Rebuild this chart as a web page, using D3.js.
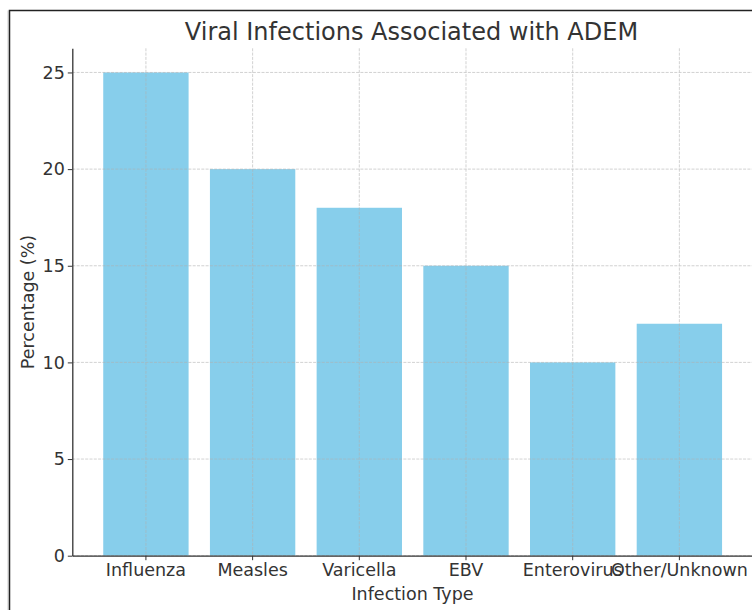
<!DOCTYPE html>
<html>
<head>
<meta charset="utf-8">
<script src="https://cdn.jsdelivr.net/npm/d3@7"></script>
<style>
  html, body { margin: 0; padding: 0; background: #fff; }
  svg { display: block; }
  text { font-family: "DejaVu Sans", sans-serif; fill: #333; }
</style>
</head>
<body>
<svg id="chart" width="752" height="610"></svg>
<script>
const categories = ["Influenza", "Measles", "Varicella", "EBV", "Enterovirus", "Other/Unknown"];
const values = [25, 20, 18, 15, 10, 12];
const yTicks = [0, 5, 10, 15, 20, 25];
const title = "Viral Infections Associated with ADEM";
const xLabel = "Infection Type";
const yLabel = "Percentage (%)";

const svg = d3.select("#chart");
const W = 752, H = 610;
const plot = { left: 72.3, right: 753, top: 48.3, bottom: 555.7 };

// outer frame (cropped screenshot border)
svg.append("line").attr("x1", 8).attr("x2", 8).attr("y1", 10.5).attr("y2", H)
  .attr("stroke", "#ccc").attr("stroke-width", 1);
svg.append("path").attr("d", `M9.5,${H} V10.5 H${W}`)
  .attr("fill", "none").attr("stroke", "#222").attr("stroke-width", 1.5);

const x = d3.scaleBand().domain(categories)
  .range([plot.left, plot.right]).paddingInner(0.2).paddingOuter(0.29);
const y = d3.scaleLinear().domain([0, 26.25]).range([plot.bottom, plot.top]);

// bars
svg.append("g").selectAll("rect").data(categories).join("rect")
  .attr("x", d => x(d))
  .attr("width", x.bandwidth())
  .attr("y", (d, i) => y(values[i]))
  .attr("height", (d, i) => y(0) - y(values[i]))
  .attr("fill", "#87CEEB");

// grid (drawn above bars, as in matplotlib)
const grid = svg.append("g").attr("stroke", "#b0b0b0").attr("stroke-width", 0.8)
  .attr("stroke-dasharray", "3,1.3").attr("opacity", 0.7);
grid.selectAll("line.h").data(yTicks).join("line").attr("class", "h")
  .attr("x1", plot.left).attr("x2", plot.right)
  .attr("y1", d => y(d)).attr("y2", d => y(d));
grid.selectAll("line.v").data(categories).join("line").attr("class", "v")
  .attr("x1", d => x(d) + x.bandwidth() / 2).attr("x2", d => x(d) + x.bandwidth() / 2)
  .attr("y1", plot.top).attr("y2", plot.bottom);

// axes
const xAxis = svg.append("g").attr("transform", `translate(0,${plot.bottom})`)
  .call(d3.axisBottom(x).tickSizeInner(4.5).tickSizeOuter(0).tickPadding(3));
const yAxis = svg.append("g").attr("transform", `translate(${plot.left},0)`)
  .call(d3.axisLeft(y).tickValues(yTicks).tickSizeInner(4.5).tickSizeOuter(0).tickPadding(3));
[xAxis, yAxis].forEach(a => {
  a.select(".domain").attr("stroke", "#333").attr("stroke-width", 1.3);
  a.selectAll(".tick line").attr("stroke", "#333").attr("stroke-width", 1);
  a.selectAll(".tick text").attr("fill", "#333")
    .style("font-family", '"DejaVu Sans", sans-serif').style("font-size", "17.5px");
});

// title & labels
svg.append("text").attr("x", 411.5).attr("y", 40).attr("text-anchor", "middle")
  .style("font-size", "24px").text(title);
svg.append("text").attr("x", 412.5).attr("y", 600).attr("text-anchor", "middle")
  .style("font-size", "17.5px").text(xLabel);
svg.append("text").attr("transform", "translate(34,302) rotate(-90)").attr("text-anchor", "middle")
  .style("font-size", "17.5px").text(yLabel);
</script>
</body>
</html>
